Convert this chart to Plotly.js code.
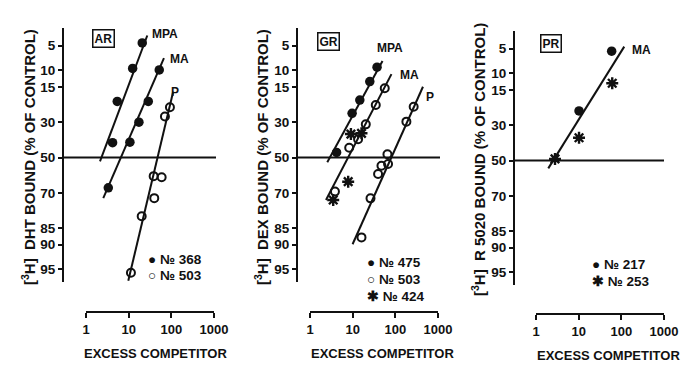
<!DOCTYPE html>
<html>
<head>
<meta charset="utf-8">
<script src="https://cdn.plot.ly/plotly-3.0.1.min.js"></script>
<style>html,body{margin:0;padding:0;background:#fff;}#chart{width:682px;height:368px;}</style>
</head>
<body>
<div id="chart"></div>
<script>
// ---------- data (x = excess competitor, y = % of control bound) ----------
// Panel AR
const arMpaX = [4.2, 5.4, 12.4, 20.8];
const arMpaY = [41.4, 20.5, 9.5, 4.6];
const arMaX = [3.33, 10.7, 17.4, 28.8, 52.1];
const arMaY = [67.2, 41.1, 30.2, 20.5, 9.9];
const arPX = [11.3, 20.2, 39.8, 38.5, 59.3, 70.8, 92.7];
const arPY = [95.5, 80.6, 72.5, 60.8, 61.4, 27.3, 23.0];
const arMpaFitX = [2.13, 27.3], arMpaFitY = [52.3, 3.64];
const arMaFitX = [2.54, 67.1], arMaFitY = [72.5, 7.2];
const arPFitX = [9.8, 110.8], arPFitY = [96.5, 16.6];
// Panel GR
const grMpaX = [4.2, 9.7, 14.7, 25.2, 37.3];
const grMpaY = [47.0, 25.8, 19.9, 13.2, 9.2];
const grMaX = [3.84, 8.3, 13.4, 20.3, 34.8, 56.5];
const grMaY = [69.2, 44.3, 39.4, 31.3, 22.0, 15.4];
const grPX = [16.1, 26.2, 39.4, 47.3, 67.5, 65.3, 181.6, 269];
const grPY = [88.0, 72.6, 59.6, 54.8, 53.8, 48.1, 29.9, 22.8];
const gr424X = [9.1, 16.1, 7.85, 3.5];
const gr424Y = [36.5, 36.1, 63.9, 73.4];
const grMpaFitX = [2.54, 50], grMpaFitY = [52.8, 7.8];
const grMaFitX = [2.37, 81.1], grMaFitY = [73.4, 11.0];
const grPFitX = [9.95, 444], grPFitY = [89.9, 14.9];
// Panel PR
const pr217X = [59.3, 10.2], pr217Y = [5.4, 23.3];
const pr253X = [61.2, 10.2, 2.79], pr253Y = [12.8, 36.9, 49.1];
const prMaFitX = [1.94, 117], prMaFitY = [54.6, 4.7];
// Axis ticks and titles
const yTickLabels = [5, 10, 15, 30, 50, 70, 85, 90, 95];
const xTickVals = [1, 10, 100, 1000];
const yTitles = ['DHT BOUND (% OF CONTROL)', 'DEX BOUND (% OF CONTROL)', 'R 5020 BOUND (% OF CONTROL)'];
const xTitle = 'EXCESS COMPETITOR';

// ---------- probit (inverse normal) axis transform ----------
function probit(p) {
  const a = [-3.969683028665376e+01, 2.209460984245205e+02, -2.759285104469687e+02, 1.383577518672690e+02, -3.066479806614716e+01, 2.506628277459239e+00];
  const b = [-5.447609879822406e+01, 1.615858368580409e+02, -1.556989798598866e+02, 6.680131188771972e+01, -1.328068155305798e+01];
  const c = [-7.784894002430293e-03, -3.223964580411365e-01, -2.400758277161838e+00, -2.549732539343734e+00, 4.374664141464968e+00, 2.938163982698783e+00];
  const d = [7.784695709041462e-03, 3.224671290700398e-01, 2.445134137142996e+00, 3.754408661907416e+00];
  const pl = 0.02425;
  let q, r;
  if (p < pl) { q = Math.sqrt(-2 * Math.log(p)); return (((((c[0]*q+c[1])*q+c[2])*q+c[3])*q+c[4])*q+c[5]) / ((((d[0]*q+d[1])*q+d[2])*q+d[3])*q+1); }
  if (p > 1 - pl) { q = Math.sqrt(-2 * Math.log(1 - p)); return -(((((c[0]*q+c[1])*q+c[2])*q+c[3])*q+c[4])*q+c[5]) / ((((d[0]*q+d[1])*q+d[2])*q+d[3])*q+1); }
  q = p - 0.5; r = q * q;
  return (((((a[0]*r+a[1])*r+a[2])*r+a[3])*r+a[4])*r+a[5])*q / (((((b[0]*r+b[1])*r+b[2])*r+b[3])*r+b[4])*r+1);
}
const pz = arr => arr.map(v => probit(v / 100));

// ---------- layout helpers ----------
const W = 682, H = 368;
const fx = x => x / W, fy = y => 1 - y / H;
const FONT = 'Liberation Sans, Arial, sans-serif';
const BLACK = '#111';

const filled = {symbol: 'circle', size: 9.5, color: BLACK, line: {width: 0}};
const open = {symbol: 'circle-open', size: 8, color: BLACK, line: {width: 2, color: BLACK}};
const star = {symbol: 'asterisk-open', size: 10, color: BLACK, line: {width: 2.4, color: BLACK}};

function pts(x, y, marker, ax, name) {
  return {type: 'scatter', mode: 'markers', x: x, y: pz(y), marker: marker, xaxis: 'x' + ax, yaxis: 'y' + ax, name: name, showlegend: false, cliponaxis: false, hoverinfo: 'x+text', text: y.map(v => v + '%')};
}
function fit(x, y, ax, name) {
  return {type: 'scatter', mode: 'lines', x: x, y: pz(y), line: {color: BLACK, width: 2}, xaxis: 'x' + ax, yaxis: 'y' + ax, name: name, showlegend: false, cliponaxis: false, hoverinfo: 'skip'};
}

const traces = [
  fit(arMpaFitX, arMpaFitY, '', 'AR MPA fit'), fit(arMaFitX, arMaFitY, '', 'AR MA fit'), fit(arPFitX, arPFitY, '', 'AR P fit'),
  pts(arMpaX, arMpaY, filled, '', '№ 368 MPA'), pts(arMaX, arMaY, filled, '', '№ 368 MA'), pts(arPX, arPY, open, '', '№ 503 P'),
  fit(grMpaFitX, grMpaFitY, '2', 'GR MPA fit'), fit(grMaFitX, grMaFitY, '2', 'GR MA fit'), fit(grPFitX, grPFitY, '2', 'GR P fit'),
  pts(grMpaX, grMpaY, filled, '2', '№ 475 MPA'), pts(grMaX, grMaY, open, '2', '№ 503 MA'), pts(grPX, grPY, open, '2', '№ 503 P'), pts(gr424X, gr424Y, star, '2', '№ 424 MA'),
  fit(prMaFitX, prMaFitY, '3', 'PR MA fit'),
  pts(pr217X, pr217Y, filled, '3', '№ 217 MA'), pts(pr253X, pr253Y, star, '3', '№ 253 MA')
];

const SCALE = 68; // px per probit unit
function yAxis(xpos, top, bottom, center) {
  return {
    domain: [fy(bottom), fy(top)],
    range: [(bottom - center) / SCALE, (top - center) / SCALE],
    anchor: 'free', position: fx(xpos), side: 'left',
    showline: true, linewidth: 2, linecolor: BLACK, mirror: false,
    ticks: 'outside', ticklen: 4, tickwidth: 2, tickcolor: BLACK,
    tickvals: yTickLabels.map(v => probit(v / 100)), ticktext: yTickLabels.map(String),
    tickfont: {family: FONT, size: 13.5, color: BLACK, weight: 'bold'},
    showgrid: false, zeroline: false, fixedrange: true
  };
}
function xAxis(left, right, ypos) {
  return {
    type: 'log', domain: [fx(left), fx(right)], range: [0, 3],
    anchor: 'free', position: fy(ypos), side: 'bottom',
    showline: true, linewidth: 2, linecolor: BLACK,
    ticks: 'outside', ticklen: 5, tickwidth: 2, tickcolor: BLACK,
    tickvals: xTickVals, ticktext: xTickVals.map(String),
    tickfont: {family: FONT, size: 13, color: BLACK, weight: 'bold'},
    showgrid: false, zeroline: false, fixedrange: true
  };
}

function txt(text, x, y, size, extra) {
  return Object.assign({text: text, x: fx(x), y: fy(y), xref: 'paper', yref: 'paper', showarrow: false,
    font: {family: FONT, size: size || 12, color: BLACK, weight: 'bold'}, xanchor: 'center', yanchor: 'middle'}, extra || {});
}
function box(text, x, y) {
  return txt(text, x, y, 12, {bordercolor: BLACK, borderwidth: 1.5, borderpad: 1});
}
function leg(text, x, y) {
  return txt(text, x, y, 13.5, {xanchor: 'left'});
}
function yTitle(text, x, y) {
  return txt('[<sup>3</sup>H]  ' + text, x, y, 15, {textangle: -90});
}
function xTitleAnn(x, y) {
  return txt(xTitle, x, y, 13);
}

const layout = {
  width: W, height: H,
  margin: {l: 0, r: 0, t: 0, b: 0},
  paper_bgcolor: '#fff', plot_bgcolor: 'rgba(0,0,0,0)',
  showlegend: false, hovermode: 'closest',
  xaxis: xAxis(86, 214, 312), yaxis: yAxis(63, 28, 282, 157.5),
  xaxis2: xAxis(310, 438, 312), yaxis2: yAxis(297, 28, 282, 157.5),
  xaxis3: xAxis(536, 664, 314), yaxis3: yAxis(514, 31, 285, 160.5),
  shapes: [
    {type: 'line', xref: 'paper', yref: 'y', x0: fx(63), x1: fx(216), y0: 0, y1: 0, line: {color: BLACK, width: 2}},
    {type: 'line', xref: 'paper', yref: 'y2', x0: fx(297), x1: fx(440), y0: 0, y1: 0, line: {color: BLACK, width: 2}},
    {type: 'line', xref: 'paper', yref: 'y3', x0: fx(514), x1: fx(664), y0: 0, y1: 0, line: {color: BLACK, width: 2}}
  ],
  annotations: [
    yTitle(yTitles[0], 29, 157), yTitle(yTitles[1], 262, 157), yTitle(yTitles[2], 479, 160),
    xTitleAnn(155, 353), xTitleAnn(383, 353), xTitleAnn(608, 355),
    box('AR', 103, 39), box('GR', 328, 41), box('PR', 551, 43),
    txt('MPA', 165, 34), txt('MA', 179, 59), txt('P', 175, 92),
    txt('MPA', 390, 48), txt('MA', 409, 75), txt('P', 430, 97),
    txt('MA', 641, 50),
    leg('● № 368', 146, 259), leg('○ № 503', 146, 275),
    leg('● № 475', 365, 262), leg('○ № 503', 365, 279), leg('✱ № 424', 365, 296),
    leg('● № 217', 590, 264), leg('✱ № 253', 590, 281)
  ]
};

Plotly.newPlot('chart', traces, layout, {displayModeBar: false});
</script>
</body>
</html>
